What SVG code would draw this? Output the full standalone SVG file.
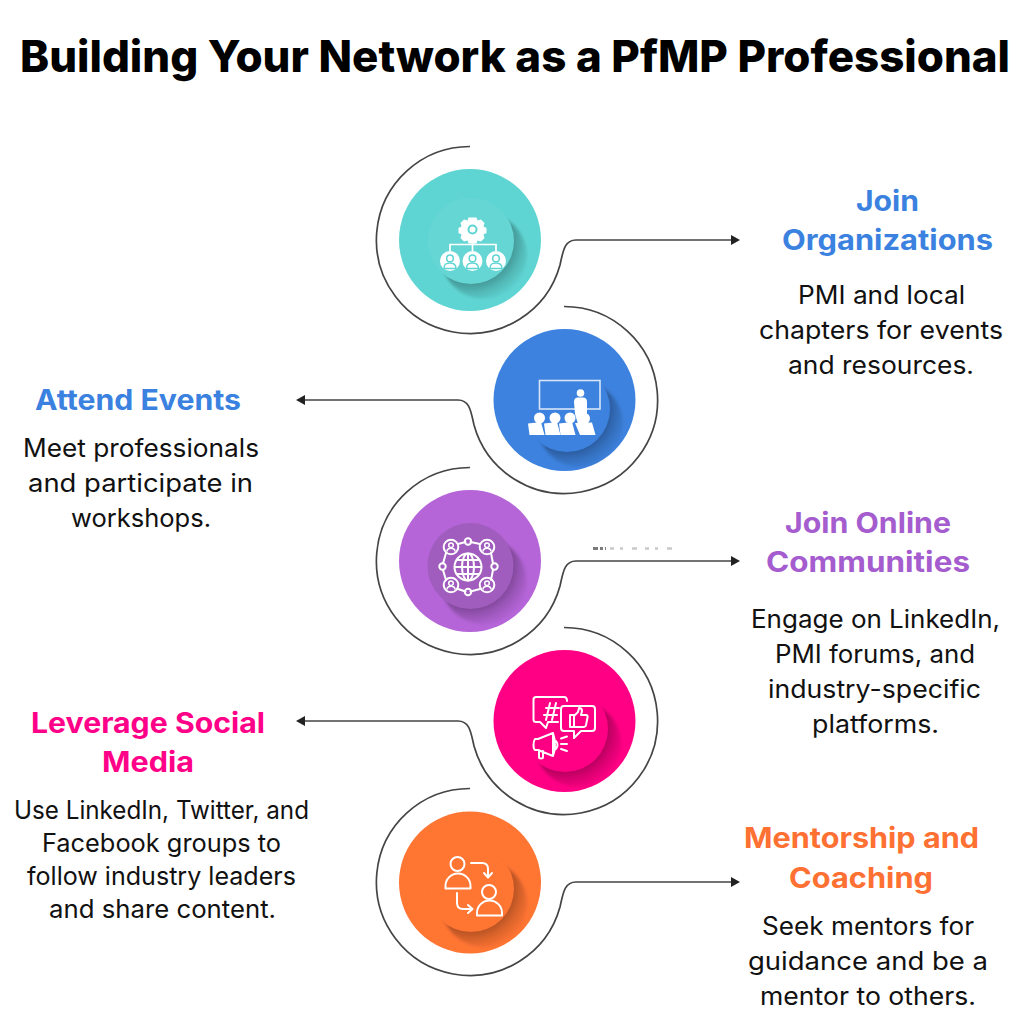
<svg xmlns="http://www.w3.org/2000/svg" xmlns:xlink="http://www.w3.org/1999/xlink" width="1024" height="1024" viewBox="0 0 1024 1024">
  <style>
    text { font-family: "Inter", "Liberation Sans", sans-serif; }
    .title { font-size: 44px; font-weight: 800; fill: #000; }
    .head { font-size: 28px; font-weight: 700; }
    .body { font-size: 25px; font-weight: 400; fill: #111; }
    .ring { fill: none; stroke: #444; stroke-width: 1.7; }
    .ln { fill: none; stroke: #fff; stroke-width: 2; stroke-linecap: round; stroke-linejoin: round; }
    .wh { fill: #fff; }
  </style>
  <defs>
    <radialGradient id="shade" gradientUnits="userSpaceOnUse" cx="0" cy="0" r="64">
      <stop offset="0.64" stop-color="#000" stop-opacity="0.3"/>
      <stop offset="0.8" stop-color="#000" stop-opacity="0.14"/>
      <stop offset="1" stop-color="#000" stop-opacity="0"/>
    </radialGradient>
    <filter id="fade" x="-10%" y="-10%" width="120%" height="120%"><feGaussianBlur stdDeviation="1.6"/></filter>
    <circle id="drop" cx="13" cy="15" r="43" fill="url(#shade)" filter="url(#fade)"/>
    <marker id="tip" markerUnits="userSpaceOnUse" markerWidth="10" markerHeight="12" refX="0" refY="6" orient="auto">
      <path d="M0,1 L9,6 L0,11 Z" fill="#222"/>
    </marker>
    <filter id="soft" x="-5%" y="-5%" width="110%" height="110%"><feGaussianBlur stdDeviation="0.4"/></filter>
    <g id="member">
      <circle r="10" fill="#fff"/>
      <circle cy="-2.600" r="3.300" fill="none" stroke="#5fd5d3" stroke-width="1.500"/>
      <path d="M-6,7.500 C-6,2.800 -3.500,2 0,2 C3.500,2 6,2.800 6,7.500 Z" fill="#fff" stroke="#5fd5d3" stroke-width="1.400"/>
    </g>
    <g id="peer">
      <circle r="7.300" fill="none" stroke="#fff" stroke-width="2"/>
      <circle cy="-1.800" r="2.300" fill="none" stroke="#fff" stroke-width="1.500"/>
      <path d="M-4,4.600 C-4,1.600 -2,1.200 0,1.200 C2,1.200 4,1.600 4,4.600" fill="none" stroke="#fff" stroke-width="1.500"/>
    </g>
    <g id="seat">
      <path d="M-11,-5.500 L2,-7 L5.500,6 L-9.500,6 Z" fill="#fff"/>
    </g>
  </defs>

  <text class="title" x="20" y="72" textLength="990" lengthAdjust="spacingAndGlyphs">Building Your Network as a PfMP Professional</text>

  <g id="connectors" filter="url(#soft)">
    <path class="ring" marker-end="url(#tip)" d="M470,146.500 A93.500,93.500 0 1 0 560,265 C563,252 564,240 576,240 L731,240"/>
    <path class="ring" marker-end="url(#tip)" d="M564,306.500 A93.500,93.500 0 1 1 474,425 C471,412 470,400 458,400 L305,400"/>
    <path class="ring" marker-end="url(#tip)" d="M470,467.500 A93.500,93.500 0 1 0 560,586 C563,573 564,561 576,561 L731,561"/>
    <path class="ring" marker-end="url(#tip)" d="M564,627.500 A93.500,93.500 0 1 1 474,746 C471,733 470,721 458,721 L305,721"/>
    <path class="ring" marker-end="url(#tip)" d="M470,788.500 A93.500,93.500 0 1 0 560,907 C563,894 564,882 576,882 L731,882"/>
    <path d="M593,548.500 H606" fill="none" stroke="#444" stroke-width="3" stroke-dasharray="5 2 3 2" opacity="0.7"/>
    <path d="M610,548.500 H680" fill="none" stroke="#777" stroke-width="2.500" stroke-dasharray="4 6 3 9 5 8" opacity="0.4"/>
  </g>

  <g id="node-organizations">
    <g filter="url(#soft)">
      <circle cx="470" cy="240" r="71" fill="#5fd5d3"/>
      <use href="#drop" transform="translate(471,241)"/>
      <circle cx="471" cy="241" r="43" fill="#66d6d4"/>
      <path class="wh" d="M468.500,217.500 h8 l1,3 3.500,-1 3.500,3.500 -1,3.500 3,1.500 v5 l-3,1.500 1,3.500 -3.500,3.500 -3.500,-1 -1,3 h-8 l-1,-3 -3.500,1 -3.500,-3.500 1,-3.500 -3,-1.500 v-5 l3,-1.500 -1,-3.500 3.500,-3.500 3.500,1 Z"/>
      <circle cx="472.500" cy="229.500" r="5" fill="#5fd5d3"/>
      <circle cx="472.500" cy="229.500" r="3" fill="#fff"/>
      <path d="M472.500,241 V251 M450,251 V244.500 H496 V251" fill="none" stroke="#fff" stroke-width="1.700"/>
      <use href="#member" transform="translate(450,261)"/>
      <use href="#member" transform="translate(472.500,261)"/>
      <use href="#member" transform="translate(496,261)"/>
    </g>
    <text class="head" fill="#3b82e0" x="856" y="211" textLength="63" lengthAdjust="spacingAndGlyphs">Join</text>
    <text class="head" fill="#3b82e0" x="782" y="250" textLength="211" lengthAdjust="spacingAndGlyphs">Organizations</text>
    <text class="body" x="798" y="304" textLength="167" lengthAdjust="spacingAndGlyphs">PMI and local</text>
    <text class="body" x="759" y="339" textLength="244" lengthAdjust="spacingAndGlyphs">chapters for events</text>
    <text class="body" x="788" y="374" textLength="186" lengthAdjust="spacingAndGlyphs">and resources.</text>
  </g>

  <g id="node-events">
    <g filter="url(#soft)">
      <circle cx="564.500" cy="400" r="71" fill="#3d82de"/>
      <use href="#drop" transform="translate(567,409)"/>
      <circle cx="567" cy="409" r="43" fill="#3d82de"/>
      <rect x="539.500" y="380.500" width="60.500" height="28.500" fill="none" stroke="#d6e5f9" stroke-width="1.600"/>
      <circle class="wh" cx="580.500" cy="393" r="3.800"/>
      <path class="wh" d="M574,402 Q574,397.500 578,397.500 H583 Q587,397.500 587,402 V413 L584,424 H578 L575,414 Z"/>
      <circle class="wh" cx="539.500" cy="418" r="5.500"/>
      <circle class="wh" cx="555" cy="418" r="5.500"/>
      <circle class="wh" cx="570" cy="418" r="5.500"/>
      <circle class="wh" cx="584.500" cy="418.500" r="5.500"/>
      <use href="#seat" transform="translate(539,429)"/>
      <use href="#seat" transform="translate(555,429)"/>
      <use href="#seat" transform="translate(570,429)"/>
      <path class="wh" d="M575,423 L592,422.500 L595.500,435 L580,435 Z"/>
    </g>
    <text class="head" fill="#3b82e0" x="35" y="410" textLength="206" lengthAdjust="spacingAndGlyphs">Attend Events</text>
    <text class="body" x="23" y="457" textLength="236" lengthAdjust="spacingAndGlyphs">Meet professionals</text>
    <text class="body" x="28" y="492" textLength="225" lengthAdjust="spacingAndGlyphs">and participate in</text>
    <text class="body" x="71" y="527" textLength="140" lengthAdjust="spacingAndGlyphs">workshops.</text>
  </g>

  <g id="node-communities">
    <g filter="url(#soft)">
      <circle cx="470" cy="561" r="71" fill="#b565d8"/>
      <use href="#drop" transform="translate(470.500,566)"/>
      <circle cx="470.500" cy="566" r="43" fill="#a05dbd"/>
      <path class="ln" d="M458,544 L465.500,542 M470.500,542 L480,544 M491,553 L493,563.500 M493,570 L491,580 M480,589 L470.500,591.500 M465.500,591.500 L458,589 M446,580 L443,570 M443,563.500 L446,553"/>
      <use href="#peer" transform="translate(451,547)"/>
      <use href="#peer" transform="translate(487,547)"/>
      <use href="#peer" transform="translate(451,585)"/>
      <use href="#peer" transform="translate(487,585)"/>
      <circle class="ln" cx="468" cy="541.500" r="3.200"/>
      <circle class="ln" cx="468" cy="592" r="3.200"/>
      <circle class="ln" cx="442.500" cy="566.500" r="3.200"/>
      <circle class="ln" cx="494.500" cy="566.500" r="3.200"/>
      <circle class="ln" cx="468" cy="567" r="13.500"/>
      <ellipse class="ln" cx="468" cy="567" rx="6" ry="13.500"/>
      <path class="ln" d="M468,554 V580 M455,567 H481 M457,560 H479 M457,574 H479" stroke-width="1.600"/>
    </g>
    <text class="head" fill="#a55cce" x="785" y="533" textLength="166" lengthAdjust="spacingAndGlyphs">Join Online</text>
    <text class="head" fill="#a55cce" x="766" y="572" textLength="204" lengthAdjust="spacingAndGlyphs">Communities</text>
    <text class="body" x="751" y="628" textLength="249" lengthAdjust="spacingAndGlyphs">Engage on LinkedIn,</text>
    <text class="body" x="775" y="663" textLength="200" lengthAdjust="spacingAndGlyphs">PMI forums, and</text>
    <text class="body" x="768" y="698" textLength="213" lengthAdjust="spacingAndGlyphs">industry-specific</text>
    <text class="body" x="812" y="733" textLength="127" lengthAdjust="spacingAndGlyphs">platforms.</text>
  </g>

  <g id="node-social">
    <g filter="url(#soft)">
      <circle cx="564.500" cy="721" r="71" fill="#ff0084"/>
      <use href="#drop" transform="translate(565,729)"/>
      <circle cx="565" cy="729" r="43" fill="#ff0084"/>
      <path class="ln" d="M567,701 Q567,697 564,697 H536 Q533.500,697 533.500,699.500 V719.500 Q533.500,722 536,722 H540 L546,728 L548,722 H558"/>
      <path class="ln" d="M546,708 H559 M544,715 H557 M550,703 L546,720 M556,703 L552,720"/>
      <path class="ln" d="M564,706 H592 Q595,706 595,709 V728 Q595,731 592,731 H581 L574,738 L574,731 H564 Q561,731 561,728 V709 Q561,706 564,706 Z"/>
      <path class="ln" d="M570,715 H574 V727 H570 Z M574,716 L578,712 L579,708 Q582,708 582,711 L581,715 H586 Q588,715 587.500,717.500 L586,725 Q585.500,727 584,727 H574"/>
      <path class="ln" d="M553,733 L538,739 H535 Q533.500,741 533.500,745 Q533.500,749 535,750 H538 L553,756 Z M553,733 Q557,745 553,756 M556,741 Q559,745 556,749 M539,750 V757 Q539,758.500 541,758.500 Q543,758.500 543,757 V751"/>
      <path class="ln" d="M561,738.500 L567,736.500 M561,744 H567 M561,749 L567,751"/>
    </g>
    <text class="head" fill="#ff0088" x="31" y="733" textLength="234" lengthAdjust="spacingAndGlyphs">Leverage Social</text>
    <text class="head" fill="#ff0088" x="102" y="772" textLength="92" lengthAdjust="spacingAndGlyphs">Media</text>
    <text class="body" x="14" y="819" textLength="295" lengthAdjust="spacingAndGlyphs">Use LinkedIn, Twitter, and</text>
    <text class="body" x="42" y="852" textLength="239" lengthAdjust="spacingAndGlyphs">Facebook groups to</text>
    <text class="body" x="27" y="885" textLength="269" lengthAdjust="spacingAndGlyphs">follow industry leaders</text>
    <text class="body" x="49" y="918" textLength="227" lengthAdjust="spacingAndGlyphs">and share content.</text>
  </g>

  <g id="node-mentorship">
    <g filter="url(#soft)">
      <circle cx="470" cy="882.500" r="71" fill="#ff7433"/>
      <use href="#drop" transform="translate(471,889)"/>
      <circle cx="471" cy="889" r="43" fill="#ff7433"/>
      <circle class="ln" cx="457.500" cy="864" r="7"/>
      <path class="ln" d="M445.500,888.500 V886 A12.500,12.500 0 0 1 470.500,886 V888.500 Z"/>
      <circle class="ln" cx="489" cy="892" r="7"/>
      <path class="ln" d="M477,915.500 V913 A12.500,12.500 0 0 1 502,913 V915.500 Z"/>
      <path class="ln" d="M471,863 H482 Q488,863 488,869 V877 M484,873 L488,877.500 L492,873"/>
      <path class="ln" d="M457,893 V903 Q457,909 463,909 H472 M468,905 L472.500,909 L468,913"/>
    </g>
    <text class="head" fill="#ff7033" x="744" y="848" textLength="235" lengthAdjust="spacingAndGlyphs">Mentorship and</text>
    <text class="head" fill="#ff7033" x="789" y="888" textLength="144" lengthAdjust="spacingAndGlyphs">Coaching</text>
    <text class="body" x="762" y="935" textLength="212" lengthAdjust="spacingAndGlyphs">Seek mentors for</text>
    <text class="body" x="748" y="970" textLength="240" lengthAdjust="spacingAndGlyphs">guidance and be a</text>
    <text class="body" x="760" y="1005" textLength="216" lengthAdjust="spacingAndGlyphs">mentor to others.</text>
  </g>
</svg>
